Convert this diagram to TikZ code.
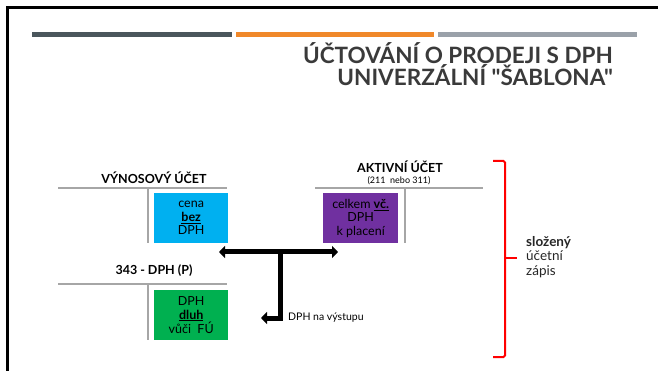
\documentclass[tikz,border=0pt]{standalone}
\usepackage{fontspec}
\setmainfont{Lato}
\newfontfamily\titlefont{Lato}[Ligatures=TeXOff]
\usetikzlibrary{arrows.meta}
\definecolor{titlegrey}{HTML}{3A3A3A}
\definecolor{barslate}{HTML}{4A565C}
\definecolor{barorange}{HTML}{F0882A}
\definecolor{bargrey}{HTML}{9AA1A9}
\definecolor{tgrey}{HTML}{A6A6A6}
\definecolor{boxblue}{HTML}{00B0F0}
\definecolor{boxpurple}{HTML}{7030A0}
\definecolor{boxgreen}{HTML}{00B050}
\tikzset{
  tline/.style={draw=tgrey, line width=1.5pt},
  bar/.style={line width=5pt},
  acct/.style={font=\fontsize{12.5}{14}\selectfont\bfseries, inner sep=0pt},
  cbox/.style={minimum width=74pt, minimum height=50pt, inner sep=0pt, align=center,
               font=\fontsize{12.5}{13.5}\selectfont, anchor=north west},
  fat/.style={line width=5pt, -{Triangle[width=12pt,length=6pt]}},
  fatboth/.style={line width=5pt, {Triangle[width=12pt,length=6pt]}-{Triangle[width=12pt,length=6pt]}},
  bracered/.style={draw=red, line width=2pt, rounded corners=1.5pt},
  ttl/.style={font=\titlefont\fontsize{22.5}{24}\selectfont\bfseries, text=titlegrey, inner sep=0pt, anchor=base east}
}
\newcommand{\ubf}[1]{\underline{\textbf{#1}}}
\begin{document}
\begin{tikzpicture}[x=1pt,y=-1pt]
\useasboundingbox (0,0) rectangle (658,371);
\fill[white] (0,0) rectangle (658,371);
% frame
\draw[line width=3pt] (7.5,371) -- (7.5,8) -- (658,8);
% bars
\draw[bar, barslate] (32,34.5) -- (232,34.5);
\draw[bar, barorange] (236,34.5) -- (434,34.5);
\draw[bar, bargrey] (438,34.5) -- (637,34.5);
% title
\node[ttl] (t1) at (613,64) {ÚČTOVÁNÍ O PRODEJI S DPH};
\node[ttl] (t2) at (613,86) {UNIVERZÁLNÍ "ŠABLONA"};
% Výnosový účet
\node[acct] (vyn) at (154,178) {VÝNOSOVÝ ÚČET};
\draw[tline] (58,188) -- (227,188);
\draw[tline] (148,188) -- (148,243);
\node[cbox, fill=boxblue] (blue) at (154,193) {cena\\\ubf{bez}\\DPH};
% Aktivní účet
\node[acct] (akt) at (400,167) {AKTIVNÍ ÚČET};
\node[font=\fontsize{9}{10}\selectfont, inner sep=0pt] (akt2) at (399,181) {(211 \ nebo 311)};
\draw[tline] (315,188) -- (483,188);
\draw[tline] (405,188) -- (405,243);
\node[cbox, fill=boxpurple, minimum width=75pt] (purple) at (323,193) {celkem \ubf{vč.}\\DPH\\k placení};
% 343
\node[acct] (dph) at (154,271) {343 - DPH (P)};
\draw[tline] (58,284) -- (227,284);
\draw[tline] (148,284) -- (148,340);
\node[cbox, fill=boxgreen] (green) at (154,290) {DPH\\\ubf{dluh}\\vůči \ FÚ};
% arrows
\coordinate (al) at (219,252);
\coordinate (ar) at (338,252);
\coordinate (stem) at (280,252);
\coordinate (bend) at (280,318);
\coordinate (ab) at (261,318);
\draw[fatboth] (al) -- (ar);
\draw[fat] (stem) -- (bend) -- (ab);
\node[font=\fontsize{10.5}{12}\selectfont, anchor=west, inner sep=0pt] (vyst) at (288,318) {DPH na výstupu};
% brace
\draw[bracered] (493,161) -- (505,161) -- (505,357) -- (493,357);
\draw[draw=red, line width=2pt] (505,258) -- (517,258);
\node[align=left, anchor=west, inner sep=0pt, font=\fontsize{13.5}{14.5}\selectfont, text=black!85] (slz) at (526,257) {\textbf{složený}\\účetní\\zápis};
\end{tikzpicture}
\end{document}
